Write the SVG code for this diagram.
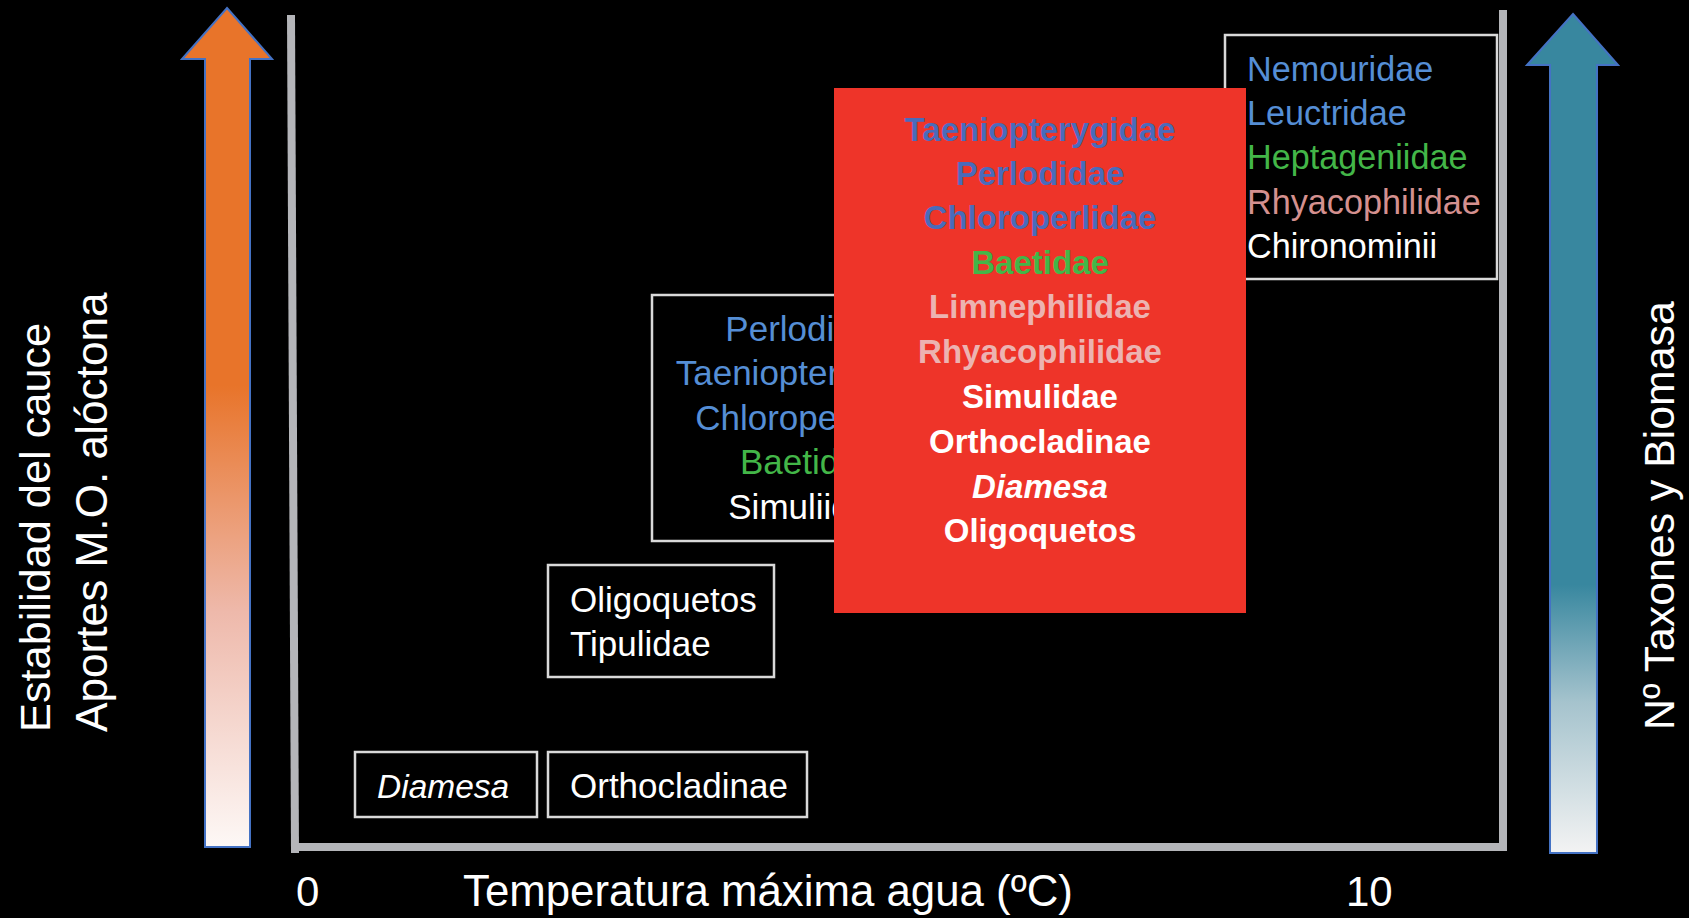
<svg xmlns="http://www.w3.org/2000/svg" width="1689" height="918" viewBox="0 0 1689 918">
  <defs>
    <style>
      text { font-family: "Liberation Sans", Arial, sans-serif; }
      .box { fill: none; stroke: #D9D9D9; stroke-width: 2.5; }
      .t { font-size: 35px; fill: #FFFFFF; }
      .tr { font-size: 34.2px; }
      .b { font-size: 33px; font-weight: bold; text-anchor: middle; }
      .ax { stroke: #B4B5B9; stroke-width: 8; fill: none; }
      .lbl { font-size: 42px; fill: #FFFFFF; }
      .blueL { fill: #558ED5; }
      .blueD { fill: #4A6BBB; }
      .green { fill: #43B648; }
      .pinkL { fill: #ECB3B1; }
      .rose { fill: #D4908F; }
      .white { fill: #FFFFFF; }
    </style>
    <linearGradient id="gOrange" gradientUnits="userSpaceOnUse" x1="0" y1="8" x2="0" y2="847">
      <stop offset="0" stop-color="#E8742A"/>
      <stop offset="0.45" stop-color="#E8742A"/>
      <stop offset="0.72" stop-color="#EEB9AB"/>
      <stop offset="1" stop-color="#FDF8F6"/>
    </linearGradient>
    <linearGradient id="gBlue" gradientUnits="userSpaceOnUse" x1="0" y1="14" x2="0" y2="853">
      <stop offset="0" stop-color="#38879F"/>
      <stop offset="0.68" stop-color="#38879F"/>
      <stop offset="0.82" stop-color="#A5C3CD"/>
      <stop offset="1" stop-color="#F3F3F3"/>
    </linearGradient>
    <clipPath id="clipMid">
      <rect x="640" y="280" width="194" height="280"/>
    </clipPath>
  </defs>

  <rect x="0" y="0" width="1689" height="918" fill="#000000"/>

  <g id="arrow-left">
    <polygon points="227,8 272,59 250,59 250,847 205,847 205,59 182,59" fill="url(#gOrange)" stroke="#4472C4" stroke-width="2"/>
  </g>
  <g id="arrow-right">
    <polygon points="1573,14 1618,65 1597,65 1597,853 1550,853 1550,65 1527,65" fill="url(#gBlue)" stroke="#4472C4" stroke-width="2"/>
  </g>

  <g id="connectors">
    <line class="ax" x1="291" y1="15" x2="295" y2="853"/>
    <line class="ax" x1="291" y1="847" x2="1507" y2="847"/>
    <line class="ax" x1="1503" y1="10" x2="1503" y2="851"/>
  </g>

  <g id="label-left">
    <text class="lbl" style="font-size:43.3px" transform="translate(50,732) rotate(-90)">Estabilidad del cauce</text>
    <text class="lbl" style="font-size:44.2px" transform="translate(107,732) rotate(-90)">Aportes M.O. alóctona</text>
  </g>
  <g id="label-right">
    <text class="lbl" style="font-size:42.8px" transform="translate(1674,730) rotate(-90)">Nº Taxones y Biomasa</text>
  </g>
  <g id="label-bottom">
    <text class="lbl" x="296" y="906">0</text>
    <text class="lbl" style="font-size:43.8px" x="463" y="906">Temperatura máxima agua (ºC)</text>
    <text class="lbl" x="1346" y="906">10</text>
  </g>

  <g id="box-diamesa">
    <rect class="box" x="355" y="752" width="182" height="65"/>
    <text class="t" style="font-size:33.5px" x="377" y="798" font-style="italic">Diamesa</text>
  </g>
  <g id="box-orthocladinae">
    <rect class="box" x="548" y="752" width="259" height="65"/>
    <text class="t" x="570" y="798">Orthocladinae</text>
  </g>
  <g id="box-oligoquetos">
    <rect class="box" x="548" y="565" width="226" height="112"/>
    <text class="t" x="570" y="612">Oligoquetos</text>
    <text class="t" x="570" y="656">Tipulidae</text>
  </g>

  <g id="box-middle">
    <rect class="box" x="652" y="295" width="316" height="246"/>
    <g clip-path="url(#clipMid)" style="text-anchor:middle">
      <text class="t blueL" x="809" y="341">Perlodidae</text>
      <text class="t blueL" x="809" y="385">Taeniopterygidae</text>
      <text class="t blueL" x="809" y="430">Chloroperlidae</text>
      <text class="t green" x="809" y="474">Baetidae</text>
      <text class="t white" x="809" y="519">Simuliidae</text>
    </g>
  </g>

  <g id="box-topright">
    <rect class="box" x="1225" y="35" width="272" height="244"/>
    <text class="tr blueL" x="1247" y="81">Nemouridae</text>
    <text class="tr blueL" x="1247" y="125">Leuctridae</text>
    <text class="tr green" x="1247" y="169">Heptageniidae</text>
    <text class="tr rose" x="1247" y="214">Rhyacophilidae</text>
    <text class="tr white" x="1247" y="258">Chironominii</text>
  </g>

  <g id="box-red">
    <rect x="834" y="88" width="412" height="525" fill="#EE3429"/>
    <text class="b blueD" x="1040" y="141">Taeniopterygidae</text>
    <text class="b blueD" x="1040" y="185">Perlodidae</text>
    <text class="b blueD" x="1040" y="229">Chloroperlidae</text>
    <text class="b green" x="1040" y="274">Baetidae</text>
    <text class="b pinkL" x="1040" y="318">Limnephilidae</text>
    <text class="b pinkL" x="1040" y="363">Rhyacophilidae</text>
    <text class="b white" x="1040" y="408">Simulidae</text>
    <text class="b white" x="1040" y="453">Orthocladinae</text>
    <text class="b white" x="1040" y="498" font-style="italic">Diamesa</text>
    <text class="b white" x="1040" y="542">Oligoquetos</text>
  </g>
</svg>
